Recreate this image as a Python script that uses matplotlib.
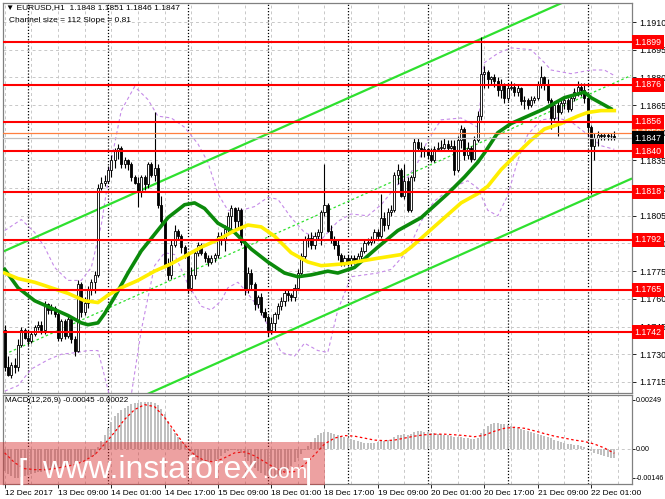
import numpy as np
import matplotlib
matplotlib.use("Agg")
import matplotlib.pyplot as plt
from matplotlib.patches import Rectangle

plt.rcParams['font.family'] = ['Liberation Sans', 'DejaVu Sans']

# EURUSD H1 candles (bar 0 = 12 Dec 17:00)
first_open = 1.1743
closes = [
    1.1723, 1.1719, 1.1724, 1.1723, 1.1735, 1.1743, 1.1739, 1.1737, 1.1741, 1.1745,
    1.1746, 1.1743, 1.1757, 1.1754, 1.1755, 1.1752, 1.1739, 1.1748, 1.1740, 1.1749,
    1.1738, 1.1732, 1.1768, 1.1753, 1.1758, 1.1765, 1.1769, 1.1773, 1.1820, 1.1823,
    1.1824, 1.1830, 1.1835, 1.1840, 1.1842, 1.1833, 1.1835, 1.1833, 1.1826, 1.1823,
    1.1818, 1.1826, 1.1822, 1.1833, 1.1827, 1.1831, 1.1811, 1.1802, 1.1778, 1.1773,
    1.1789, 1.1797, 1.1794, 1.1788, 1.1784, 1.1766, 1.1773, 1.1785, 1.1789, 1.1785,
    1.1782, 1.1780, 1.1782, 1.1784, 1.1794, 1.1792, 1.1798, 1.1805, 1.1809, 1.1802,
    1.1808, 1.1791, 1.1765, 1.1774, 1.1768, 1.1757, 1.1761, 1.1753, 1.1750, 1.1743,
    1.1747, 1.1752, 1.1756, 1.1759, 1.1763, 1.1762, 1.1761, 1.1766, 1.1774, 1.1783,
    1.1792, 1.1793, 1.1789, 1.1794, 1.1796, 1.1807, 1.1811, 1.1797, 1.1792, 1.1789,
    1.1784, 1.1780, 1.1782, 1.1780, 1.1782, 1.1781, 1.1783, 1.1786, 1.1790, 1.1791,
    1.1792, 1.1796, 1.1794, 1.1804, 1.1800, 1.1807, 1.1808, 1.1827, 1.1830, 1.1816,
    1.1824, 1.1808, 1.1826, 1.1845, 1.1842, 1.1840, 1.1841, 1.1838, 1.1835, 1.1841,
    1.1842, 1.1842, 1.1844, 1.1842, 1.1843, 1.1830, 1.1846, 1.1852, 1.1838, 1.1842,
    1.1836, 1.1846, 1.1859, 1.1882, 1.1883, 1.1879, 1.1880, 1.1878, 1.1873, 1.1876,
    1.1869, 1.1874, 1.1875, 1.1872, 1.1874, 1.1867, 1.1868, 1.1865, 1.1868, 1.1869,
    1.1876, 1.1880, 1.1876, 1.1868, 1.1858, 1.1865, 1.1861, 1.1866, 1.1868, 1.1863,
    1.1869, 1.1872, 1.1875, 1.1873, 1.1869, 1.1853, 1.1843, 1.1847, 1.1849, 1.1848,
    1.1849, 1.1848, 1.1848, 1.1847]
highs = [
    1.1746, 1.1729, 1.1726, 1.1728, 1.1738, 1.1745, 1.1744, 1.1742, 1.1742, 1.1746,
    1.1748, 1.1748, 1.1759, 1.1758, 1.1757, 1.1756, 1.1753, 1.1749, 1.1749, 1.1751,
    1.1750, 1.1740, 1.1770, 1.1769, 1.1761, 1.1767, 1.1771, 1.1775, 1.1822, 1.1826,
    1.1827, 1.1832, 1.1838, 1.1842, 1.1844, 1.1843, 1.1837, 1.1836, 1.1834, 1.1827,
    1.1826, 1.1827, 1.1827, 1.1834, 1.1834, 1.1861, 1.1833, 1.1816, 1.1803, 1.1782,
    1.1792, 1.1800, 1.1798, 1.1795, 1.1789, 1.1785, 1.1777, 1.1787, 1.1791, 1.1790,
    1.1786, 1.1784, 1.1784, 1.1785, 1.1796, 1.1796, 1.1800, 1.1807, 1.1811, 1.1810,
    1.1810, 1.1809, 1.1792, 1.1777, 1.1776, 1.1769, 1.1762, 1.1763, 1.1755, 1.1751,
    1.1750, 1.1753, 1.1758, 1.1761, 1.1765, 1.1765, 1.1763, 1.1768, 1.1776, 1.1785,
    1.1794, 1.1795, 1.1796, 1.1796, 1.1798, 1.1808, 1.1833, 1.1812, 1.1800, 1.1794,
    1.1792, 1.1785, 1.1784, 1.1784, 1.1784, 1.1784, 1.1785, 1.1788, 1.1792, 1.1793,
    1.1794, 1.1798, 1.1798, 1.1817, 1.1807, 1.1809, 1.1811, 1.1829, 1.1833, 1.1831,
    1.1833, 1.1826, 1.1827, 1.1847, 1.1847, 1.1845, 1.1843, 1.1842, 1.1842, 1.1843,
    1.1845, 1.1846, 1.1847, 1.1846, 1.1846, 1.1846, 1.1848, 1.1854, 1.1853, 1.1845,
    1.1843, 1.1848, 1.1862, 1.1902, 1.1886, 1.1884, 1.1881, 1.1882, 1.1880, 1.1879,
    1.1877, 1.1876, 1.1878, 1.1877, 1.1876, 1.1875, 1.1870, 1.1869, 1.1870, 1.1870,
    1.1878, 1.1886, 1.1881, 1.1879, 1.1869, 1.1867, 1.1867, 1.1868, 1.1869, 1.1869,
    1.1870, 1.1874, 1.1878, 1.1877, 1.1877, 1.1870, 1.1854, 1.1850, 1.1851, 1.1850,
    1.1850, 1.1850, 1.1850, 1.1851]
lows = [
    1.1721, 1.1718, 1.1717, 1.1720, 1.1721, 1.1734, 1.1738, 1.1735, 1.1736, 1.1740,
    1.1743, 1.1741, 1.1741, 1.1752, 1.1752, 1.1750, 1.1737, 1.1737, 1.1738, 1.1739,
    1.1736, 1.1729, 1.1731, 1.1750, 1.1751, 1.1755, 1.1762, 1.1763, 1.1772, 1.1819,
    1.1821, 1.1823, 1.1826, 1.1831, 1.1836, 1.1831, 1.1831, 1.1830, 1.1824, 1.1822,
    1.1810, 1.1815, 1.1819, 1.1820, 1.1826, 1.1824, 1.1809, 1.1800, 1.1777, 1.1770,
    1.1771, 1.1788, 1.1792, 1.1785, 1.1782, 1.1763, 1.1764, 1.1771, 1.1783, 1.1784,
    1.1780, 1.1778, 1.1779, 1.1780, 1.1782, 1.1789, 1.1786, 1.1796, 1.1798, 1.1797,
    1.1798, 1.1789, 1.1762, 1.1763, 1.1765, 1.1754, 1.1755, 1.1751, 1.1748, 1.1740,
    1.1741, 1.1742, 1.1749, 1.1754, 1.1756, 1.1759, 1.1759, 1.1759, 1.1765, 1.1773,
    1.1781, 1.1788, 1.1787, 1.1787, 1.1792, 1.1789, 1.1805, 1.1796, 1.1790, 1.1787,
    1.1781, 1.1778, 1.1778, 1.1778, 1.1778, 1.1779, 1.1779, 1.1781, 1.1785, 1.1789,
    1.1789, 1.1790, 1.1792, 1.1793, 1.1797, 1.1798, 1.1805, 1.1807, 1.1822, 1.1815,
    1.1814, 1.1807, 1.1807, 1.1824, 1.1840, 1.1837, 1.1837, 1.1836, 1.1834, 1.1834,
    1.1840, 1.1840, 1.1841, 1.1840, 1.1841, 1.1827, 1.1829, 1.1842, 1.1835, 1.1836,
    1.1834, 1.1835, 1.1845, 1.1857, 1.1874, 1.1874, 1.1876, 1.1875, 1.1870, 1.1869,
    1.1866, 1.1867, 1.1873, 1.1870, 1.1870, 1.1865, 1.1863, 1.1863, 1.1864, 1.1866,
    1.1868, 1.1874, 1.1873, 1.1866, 1.1852, 1.1857, 1.1848, 1.1860, 1.1863, 1.1861,
    1.1862, 1.1867, 1.1870, 1.1870, 1.1866, 1.1848, 1.1817, 1.1835, 1.1843, 1.1846,
    1.1846, 1.1846, 1.1846, 1.1846]

# moving averages, sampled along the curves (bar, price)
green_ma_bars = [0, 4, 9, 14, 19, 23, 25, 28, 30, 33, 37, 41, 45, 49, 54, 57, 60, 64, 69, 74,
                 79, 84, 88, 92, 97, 100, 105, 112, 118, 125, 133, 138, 142, 144, 148, 152,
                 157, 162, 168, 174, 176, 182]
green_ma_vals = [1.1776, 1.1766, 1.1759, 1.1755, 1.1751, 1.1747, 1.1746, 1.1747, 1.1752, 1.1761,
                 1.1774, 1.1786, 1.1795, 1.1804, 1.1811, 1.1812, 1.1809, 1.1801, 1.1796, 1.1787,
                 1.1780, 1.1774, 1.1772, 1.1773, 1.1775, 1.1774, 1.1777, 1.1788, 1.1797, 1.1804,
                 1.1817, 1.1826, 1.1834, 1.1839, 1.1850, 1.1855, 1.1859, 1.1863, 1.1869, 1.1872,
                 1.1869, 1.1863]
yellow_ma_bars = [0, 4, 9, 14, 19, 24, 28, 31, 35, 40, 45, 50, 55, 59, 64, 69, 73, 77, 81, 86,
                  91, 95, 102, 112, 119, 122, 127, 132, 137, 142, 145, 149, 154, 158, 162, 167,
                  172, 175, 179, 183]
yellow_ma_vals = [1.1774, 1.1771, 1.1769, 1.1766, 1.1763, 1.1759, 1.1758, 1.1762, 1.1766, 1.1770,
                  1.1775, 1.1779, 1.1784, 1.1788, 1.1792, 1.1797, 1.1800, 1.1799, 1.1794, 1.1785,
                  1.1780, 1.1778, 1.1779, 1.1782, 1.1784, 1.1788, 1.1796, 1.1804, 1.1812, 1.1817,
                  1.1821, 1.1830, 1.1839, 1.1846, 1.1852, 1.1855, 1.1859, 1.1861, 1.1862, 1.1862]

# bollinger bands
upper_band_bars = [0, 5, 9, 12, 15, 19, 23, 26, 29, 32, 35, 39, 43, 46, 50, 54, 58, 61, 64, 67,
                   71, 75, 79, 82, 86, 90, 95, 100, 104, 109, 113, 118, 121, 124, 127, 131, 137,
                   142, 144, 148, 152, 158, 162, 164, 170, 176, 180, 183]
upper_band_vals = [1.1797, 1.1803, 1.1796, 1.1788, 1.1777, 1.1770, 1.1770, 1.1777, 1.1800, 1.1835,
                   1.1862, 1.1875, 1.1868, 1.1859, 1.1858, 1.1853, 1.1844, 1.1834, 1.1817, 1.1808,
                   1.1808, 1.1810, 1.1815, 1.1814, 1.1804, 1.1796, 1.1792, 1.1802, 1.1806, 1.1805,
                   1.1811, 1.1822, 1.1826, 1.1834, 1.1846, 1.1857, 1.1858, 1.1853, 1.1888, 1.1893,
                   1.1896, 1.1895, 1.1888, 1.1884, 1.1882, 1.1884, 1.1884, 1.1881]
lower_band_bars = [0, 4, 8, 13, 17, 22, 25, 28, 29, 31, 33, 36, 38, 41, 45, 48, 51, 55, 59, 62,
                   65, 67, 70, 72, 76, 80, 83, 87, 90, 94, 97, 100, 104, 112, 116, 121, 125, 129,
                   134, 139, 142, 145, 148, 151, 154, 157, 161, 166, 170, 175, 179, 183]
lower_band_vals = [1.1710, 1.1713, 1.1722, 1.1727, 1.1730, 1.1731, 1.1732, 1.1732, 1.1725, 1.1711,
                   1.1695, 1.1690, 1.1708, 1.1743, 1.1778, 1.1785, 1.1784, 1.1768, 1.1756, 1.1754,
                   1.1759, 1.1766, 1.1769, 1.1765, 1.1756, 1.1742, 1.1731, 1.1729, 1.1736, 1.1732,
                   1.1731, 1.1754, 1.1772, 1.1774, 1.1776, 1.1786, 1.1802, 1.1813, 1.1820, 1.1824,
                   1.1820, 1.1808, 1.1805, 1.1816, 1.1835, 1.1849, 1.1857, 1.1858, 1.1856, 1.1849,
                   1.1843, 1.1841]

# regression channel: middle line end points, half width
chan_bars = [0, 188]
chan_mid = [1.1730, 1.1881]
chan_half = 0.0056

# MACD(12,26,9), units of 1e-5
macd_hist = [
    -110, -125, -135, -146, -146, -140, -135, -130, -125, -120,
    -118, -115, -110, -108, -105, -100, -98, -95, -90, -88,
    -85, -82, -70, -65, -60, -50, -40, -30, 10, 40,
    70, 105, 135, 165, 185, 200, 210, 220, 228, 232,
    235, 238, 240, 240, 238, 235, 225, 205, 175, 140,
    105, 80, 60, 40, 25, 5, -10, -40, -55, -65,
    -70, -70, -68, -60, -50, -35, -20, -10, -5, -5,
    -10, -20, -40, -60, -80, -95, -110, -120, -130, -135,
    -140, -140, -135, -125, -115, -100, -85, -65, -45, -25,
    -5, 15, 35, 55, 70, 80, 85, 85, 80, 75,
    70, 65, 60, 55, 50, 45, 40, 35, 30, 30,
    30, 32, 35, 38, 40, 45, 48, 60, 70, 72,
    75, 72, 75, 85, 90, 90, 88, 85, 82, 80,
    78, 75, 72, 70, 65, 62, 60, 60, 58, 55,
    52, 50, 55, 80, 100, 115, 125, 130, 130, 128,
    125, 120, 115, 110, 105, 100, 95, 90, 85, 80,
    78, 70, 65, 60, 55, 48, 42, 36, 30, 27,
    24, 22, 20, 16, 12, 5, -10, -20, -28, -33,
    -38, -42, -45, -45]
signal_bars = list(range(0, 184, 3))
signal_vals = [-20, -70, -100, -105, -105, -100, -90, -80, -60, -30, 25, 85, 150, 200, 225, 215,
               160, 90, 20, -30, -60, -66, -45, -20, -15, -35, -65, -95, -118, -115, -80, -30,
               25, 55, 68, 65, 55, 45, 42, 45, 55, 65, 72, 75, 75, 72, 68, 62, 70, 90, 105, 110,
               105, 92, 78, 65, 55, 45, 38, 25, 5, -22]

levels = [1.1899, 1.1876, 1.1856, 1.1840, 1.1818, 1.1792, 1.1765, 1.1742]
ask_level = 1.1850
bid_level = 1.1847
price_ticks = [1.1715, 1.1730, 1.1745, 1.1760, 1.1775, 1.1790, 1.1805, 1.1820,
               1.1835, 1.1850, 1.1865, 1.1880, 1.1895, 1.1910]
day_starts = [7, 31, 55, 79, 103, 127, 151, 175]
time_ticks = list(range(0, 177, 16))
time_labels = ['12 Dec 2017', '13 Dec 09:00', '14 Dec 01:00', '14 Dec 17:00', '15 Dec 09:00',
               '18 Dec 01:00', '18 Dec 17:00', '19 Dec 09:00', '20 Dec 01:00', '20 Dec 17:00',
               '21 Dec 09:00', '22 Dec 01:00']

W, H = 665, 499
fig = plt.figure(figsize=(W / 100, H / 100), dpi=100)
fig.patch.set_facecolor('white')


def box(x0, y0, x1, y1):
    return [x0 / W, 1 - y1 / H, (x1 - x0) / W, (y1 - y0) / H]


ax = fig.add_axes(box(3, 3, 632, 393))
mx = fig.add_axes(box(3, 395, 632, 484), sharex=ax)

n = len(closes)
idx = np.arange(n)
c = np.array(closes)
o = np.array([first_open] + closes[:-1])
hi = np.maximum(np.array(highs), np.maximum(o, c))
lo = np.minimum(np.array(lows), np.minimum(o, c))

# grid + day separators
grid_kw = dict(color='#c8c8c8', lw=0.7, ls=(0, (3, 3)), zorder=0.5)
for p in price_ticks:
    ax.axhline(p, **grid_kw)
for b in range(0, 189, 8):
    ax.axvline(b, **grid_kw)
    mx.axvline(b, **grid_kw)
mx.axhline(0, **grid_kw)
for d in day_starts:
    ax.axvline(d, color='black', lw=0.9, ls=(0, (1, 1.5)), zorder=0.6)
    mx.axvline(d, color='black', lw=0.9, ls=(0, (1, 1.5)), zorder=0.6)

# bands and channel
band_kw = dict(color='#c58ae8', lw=0.8, ls=(0, (3, 2.5)), zorder=2)
ax.plot(upper_band_bars, upper_band_vals, **band_kw)
ax.plot(lower_band_bars, lower_band_vals, **band_kw)
cb = np.array(chan_bars)
cm = np.array(chan_mid)
ax.plot(cb, cm + chan_half, color='#2ee02e', lw=1.6, zorder=2.5)
ax.plot(cb, cm - chan_half, color='#2ee02e', lw=1.6, zorder=2.5)
ax.plot(cb, cm, color='#2ee02e', lw=0.9, ls=(0, (2, 2)), zorder=2.5)

# candles
ax.vlines(idx, lo, hi, color='black', lw=0.8, zorder=3)
up = c >= o
ax.bar(idx, np.maximum(np.abs(c - o), 0.00003), bottom=np.minimum(o, c), width=0.62,
       color=np.where(up, 'white', 'black'), edgecolor='black', linewidth=0.6, zorder=3.1)

# moving averages
ax.plot(green_ma_bars, green_ma_vals, color='#0b8a0b', lw=2.6, zorder=4)
ax.plot(yellow_ma_bars, yellow_ma_vals, color='#ffee00', lw=2.6, zorder=4)

# levels
for lv in levels:
    ax.axhline(lv, color='#ff0000', lw=1.5, zorder=5)
ax.axhline(ask_level, color='#ff7f3f', lw=0.9, zorder=5)
ax.axhline(bid_level, color='#c0c0c0', lw=0.9, zorder=5)

ax.set_xlim(-0.5, 188.3)
ax.set_ylim(1.17090, 1.19203)
ax.yaxis.tick_right()
ax.set_yticks(price_ticks)
ax.set_yticklabels([f'{p:.4f}' for p in price_ticks])
ax.tick_params(axis='y', labelsize=6.3, length=3, width=0.6, pad=2)
ax.tick_params(axis='x', bottom=False, labelbottom=False)

trans = ax.get_yaxis_transform()
lab_kw = dict(transform=trans, ha='left', va='center', fontsize=6.3, color='white', zorder=6,
              clip_on=False)
ax.text(1.004, ask_level, f'{ask_level:.4f}',
        bbox=dict(boxstyle='square,pad=0.3', fc='#ff7f3f', ec='none'), **lab_kw)
ax.text(1.004, bid_level, f'{bid_level:.4f}',
        bbox=dict(boxstyle='square,pad=0.3', fc='black', ec='none'), **lab_kw)
for lv in levels:
    ax.text(1.004, lv, f'{lv:.4f}',
            bbox=dict(boxstyle='square,pad=0.3', fc='#ff0000', ec='none'), **lab_kw)

# MACD panel
mx.bar(idx, np.array(macd_hist) * 1e-5, width=0.6, color='#c0c0c0', zorder=2)
mx.plot(signal_bars, np.array(signal_vals) * 1e-5, color='#ff0000', lw=0.9,
        ls=(0, (2, 2)), zorder=3)
mx.set_ylim(-0.00178, 0.00274)
mx.yaxis.tick_right()
mx.set_yticks([0.00249, 0.0, -0.00146])
mx.set_yticklabels(['0.00249', '0.00', '-0.00146'])
mx.tick_params(axis='y', labelsize=5.1, length=2, width=0.6, pad=0.8)
mx.set_xticks(time_ticks)
mx.set_xticklabels(time_labels)
mx.tick_params(axis='x', labelsize=6, length=3, width=0.6, pad=1.5)
for t in mx.get_xticklabels():
    t.set_ha('left')

for a in (ax, mx):
    for s in a.spines.values():
        s.set_color('#808080')
        s.set_linewidth(0.9)

fig.text(6 / W, 1 - 8 / H, '\u25bc EURUSD,H1  1.1848 1.1851 1.1846 1.1847',
         fontsize=6, va='center', ha='left')
fig.text(9 / W, 1 - 20 / H, 'Channel size = 112 Slope = 0.81',
         fontsize=6, va='center', ha='left')
fig.text(5 / W, 1 - 400 / H, 'MACD(12,26,9) -0.00045 -0.00022',
         fontsize=5.8, va='center', ha='left')

# watermark
fig.add_artist(Rectangle((0, 1 - 485 / H), 325 / W, 43 / H, transform=fig.transFigure,
                         fc='#d83030', alpha=0.45, ec='none', zorder=20))
fig.text(18 / W, 1 - 482 / H, '[', fontsize=24, color='white', va='baseline', zorder=21)
fig.text(42 / W, 1 - 478 / H, 'www.instaforex', fontsize=23, color='white',
         va='baseline', zorder=21)
fig.text(262 / W, 1 - 478 / H, '.com', fontsize=15, color='white', va='baseline', zorder=21)
fig.text(303 / W, 1 - 482 / H, ']', fontsize=24, color='white', va='baseline', zorder=21)

fig.savefig('out.png', dpi=100)
